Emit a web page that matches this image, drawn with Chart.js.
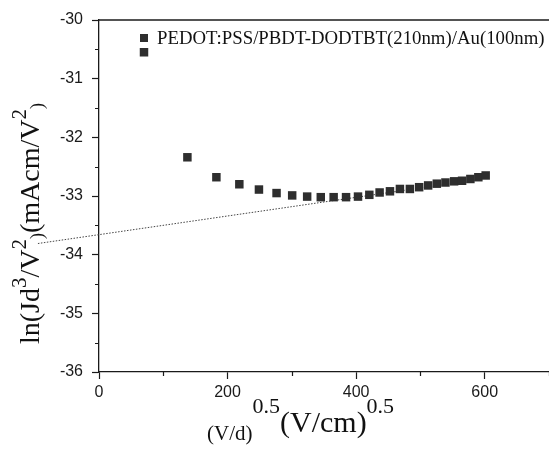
<!DOCTYPE html>
<html>
<head>
<meta charset="utf-8">
<script src="https://cdn.jsdelivr.net/npm/chart.js@4"></script>
<style>
html,body{margin:0;padding:0;background:#fff;overflow:hidden;width:549px;height:451px;}
#c{display:block;}
</style>
</head>
<body>
<canvas id="c" width="555" height="451"></canvas>
<script>
// ---- data ----
const seriesName = 'PEDOT:PSS/PBDT-DODTBT(210nm)/Au(100nm)';
const xValues = [70, 137.5, 182.6, 218.3, 248.8, 276.2, 300.5, 323.8, 345, 365, 384.3, 402.9, 420.5, 436.5, 452.6, 468.1, 483.6, 498, 512, 525.5, 538.9, 552.4, 564.8, 577.7, 590.1, 601.5];
const yValues = [-30.55, -32.34, -32.68, -32.80, -32.89, -32.95, -32.99, -33.01, -33.02, -33.02, -33.02, -33.01, -32.98, -32.94, -32.92, -32.88, -32.88, -32.85, -32.82, -32.79, -32.77, -32.75, -32.74, -32.71, -32.68, -32.65];
const fitX = [-95, 565];
const fitY = [-33.81, -32.76];
const xTickLabels = [0, 200, 400, 600];
const yTickLabels = [-30, -31, -32, -33, -34, -35, -36];

const points = xValues.map((x, i) => ({x: x, y: yValues[i]}));
const fitLine = fitX.map((x, i) => ({x: x, y: fitY[i]}));

const AX = '#1a1a1a';
const SERIF = '"Liberation Serif", "Times New Roman", serif';
const SANS = '"Liberation Sans", Arial, sans-serif';

function drawRich(ctx, segs, x, y) {
  let cx = x;
  for (const s of segs) {
    ctx.font = s.size + 'px ' + SERIF;
    ctx.fillText(s.t, cx, y + (s.dy || 0));
    cx += ctx.measureText(s.t).width;
  }
}

const decor = {
  id: 'decor',
  afterDraw(chart) {
    const ctx = chart.ctx;
    const a = chart.chartArea;
    const xs = chart.scales.x, ys = chart.scales.y;
    ctx.save();
    ctx.strokeStyle = AX;
    ctx.lineWidth = 1.3;
    // top frame
    ctx.beginPath();
    ctx.moveTo(a.left, a.top);
    ctx.lineTo(a.right, a.top);
    ctx.stroke();
    // minor ticks
    ctx.lineWidth = 1.2;
    ctx.beginPath();
    for (let v = 100; v <= 700; v += 200) {
      const px = Math.round(xs.getPixelForValue(v)) + 0.5;
      ctx.moveTo(px, a.bottom);
      ctx.lineTo(px, a.bottom + 4);
    }
    for (let v = -35.5; v <= -30.5; v += 1) {
      const py = Math.round(ys.getPixelForValue(v)) + 0.5;
      ctx.moveTo(a.left - 4, py);
      ctx.lineTo(a.left, py);
    }
    ctx.stroke();

    // legend
    ctx.fillStyle = '#2e2e2e';
    ctx.fillRect(140, 34, 8, 8);
    ctx.fillStyle = '#111';
    ctx.textBaseline = 'alphabetic';
    ctx.textAlign = 'left';
    ctx.font = '18.8px ' + SERIF;
    ctx.fillText(seriesName, 157, 44);

    // x title
    drawRich(ctx, [
      {t: '(V/d)', size: 21, dy: 8},
      {t: '0.5', size: 22, dy: -19},
      {t: '(V/cm)', size: 30, dy: 0},
      {t: '0.5', size: 22, dy: -19}
    ], 207, 432);

    // y title (rotated)
    ctx.save();
    ctx.translate(39, 344);
    ctx.rotate(-Math.PI / 2);
    drawRich(ctx, [
      {t: 'ln(Jd', size: 28, dy: 0},
      {t: '3', size: 21, dy: -13},
      {t: '/V', size: 28, dy: 0},
      {t: '2', size: 21, dy: -13},
      {t: ')', size: 18, dy: 4},
      {t: '(mAcm/V', size: 28, dy: 0},
      {t: '2', size: 21, dy: -13},
      {t: ')', size: 18, dy: 4}
    ], 0, 0);
    ctx.restore();
    ctx.restore();
  }
};

new Chart(document.getElementById('c'), {
  type: 'scatter',
  data: {
    datasets: [
      {
        label: seriesName,
        data: points,
        pointStyle: 'rect',
        pointRadius: 6,
        pointHoverRadius: 6,
        backgroundColor: '#2e2e2e',
        borderColor: '#2e2e2e',
        borderWidth: 0,
        showLine: false,
        order: 1
      },
      {
        type: 'line',
        label: 'fit',
        data: fitLine,
        borderColor: '#444',
        borderWidth: 1,
        borderDash: [1.5, 1.5],
        pointRadius: 0,
        fill: false,
        clip: false,
        order: 2
      }
    ]
  },
  options: {
    responsive: false,
    animation: false,
    events: [],
    layout: {padding: {top: 20, right: 0, bottom: 0, left: 0}},
    plugins: {legend: {display: false}, tooltip: {enabled: false}},
    scales: {
      x: {
        type: 'linear',
        min: 0, max: 700,
        afterFit: s => { s.height = 79; },
        ticks: {
          stepSize: 100,
          autoSkip: false,
          maxRotation: 0,
          padding: 4,
          color: AX,
          font: {family: SANS, size: 16},
          callback: v => xTickLabels.includes(v) ? String(v) : ''
        },
        grid: {
          drawOnChartArea: false,
          drawTicks: true,
          tickLength: 7,
          tickWidth: 1.2,
          tickColor: c => (c.tick && xTickLabels.includes(c.tick.value)) ? AX : 'rgba(0,0,0,0)'
        },
        border: {display: true, color: AX, width: 1.3}
      },
      y: {
        type: 'linear',
        min: -36, max: -30,
        afterFit: s => { s.width = 99; },
        ticks: {
          stepSize: 0.5,
          autoSkip: false,
          padding: 9,
          color: AX,
          font: {family: SANS, size: 16},
          callback: v => yTickLabels.includes(v) ? String(v) : ''
        },
        grid: {
          drawOnChartArea: false,
          drawTicks: true,
          tickLength: 7,
          tickWidth: 1.2,
          tickColor: c => (c.tick && yTickLabels.includes(c.tick.value)) ? AX : 'rgba(0,0,0,0)'
        },
        border: {display: true, color: AX, width: 1.3}
      }
    }
  },
  plugins: [decor]
});
</script>
</body>
</html>
